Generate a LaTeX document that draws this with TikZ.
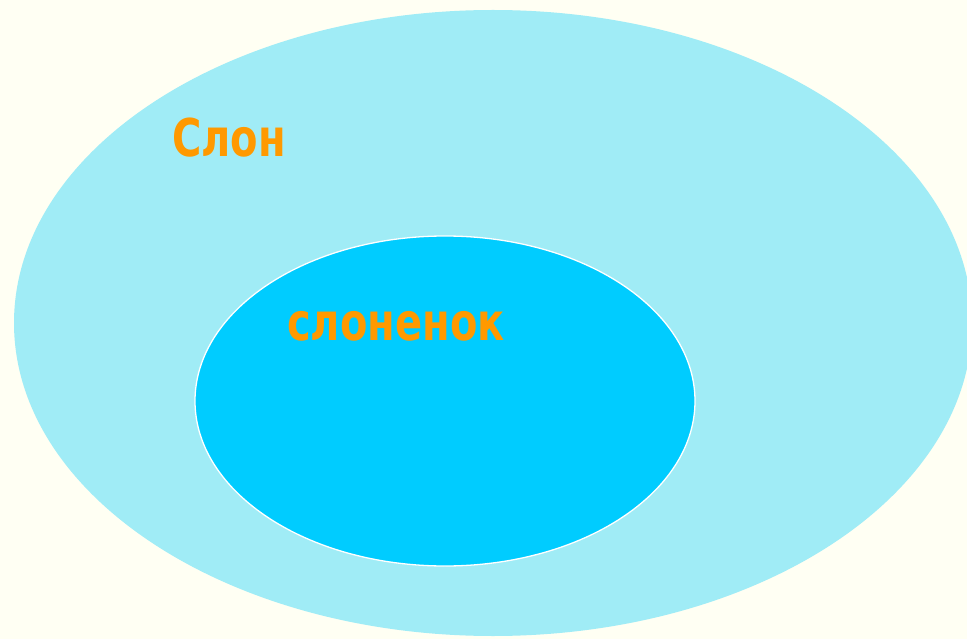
\documentclass[tikz,border=0pt]{standalone}
\usepackage{fontspec}
\setmainfont{DejaVu Sans}
\definecolor{bgcream}{HTML}{FFFFF3}
\definecolor{outerblue}{HTML}{A0ECF6}
\definecolor{innerblue}{HTML}{00CCFF}
\definecolor{labelorange}{HTML}{FF9900}
\tikzset{
  setlabel/.style={text=labelorange, font=\bfseries\fontsize{40}{44}\selectfont, inner sep=0pt},
}
\begin{document}
\begin{tikzpicture}[x=1pt,y=-1pt]
  \useasboundingbox (0,0) rectangle (967,639);
  \fill[bgcream] (0,0) rectangle (967,639);
  \begin{scope}
    \clip (0,0) rectangle (967,639);
    \fill[outerblue] (493,323) ellipse [x radius=479, y radius=313];
  \end{scope}
  \filldraw[fill=innerblue, draw=white, line width=1.3pt] (445,401) ellipse [x radius=250, y radius=165];
  \node[setlabel, anchor=base west] (slon) at (172,157) {\scalebox{1.0}[1.3]{Слон}};
  \node[setlabel, anchor=base west] (slonenok) at (287,340) {\scalebox{1.0}[1.3]{слоненок}};
\end{tikzpicture}
\end{document}
